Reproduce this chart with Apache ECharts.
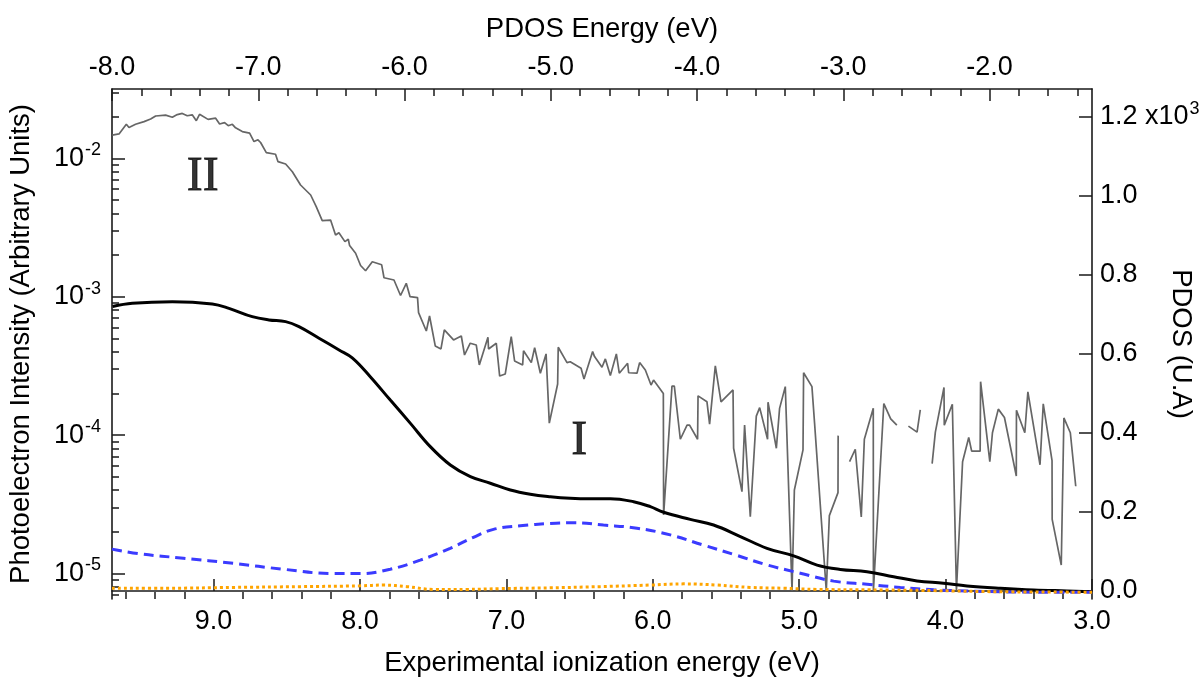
<!DOCTYPE html>
<html>
<head>
<meta charset="utf-8">
<script src="https://cdn.jsdelivr.net/npm/echarts@6/dist/echarts.min.js"></script>
<style>
html,body{margin:0;padding:0;background:#fff;}
#chart{width:1200px;height:678px;}
</style>
</head>
<body>
<div id="chart"></div>
<script>
// ---------- data ----------
// Spectrum II (grey, experimental ionization energy vs intensity, log axis)
const greyE = [
  9.692,9.646,9.596,9.578,9.533,9.475,9.430,9.396,9.328,9.282,
  9.248,9.214,9.180,9.146,9.118,9.096,9.038,8.986,8.959,8.925,
  8.900,8.872,8.850,8.804,8.754,8.724,8.697,8.679,8.640,8.577,
  8.560,8.508,8.462,8.406,8.337,8.299,8.258,8.201,8.167,8.144,
  8.103,8.080,8.071,8.030,7.996,7.962,7.916,7.852,7.836,7.768,
  7.723,7.684,7.658,7.607,7.600,7.547,7.525,7.486,7.447,7.424,
  7.361,7.308,7.286,7.247,7.206,7.185,7.126,7.122,7.069,7.046,
  7.008,6.967,6.944,6.889,6.883,6.830,6.807,6.768,6.729,6.707,
  6.650,6.646,6.586,6.564,6.490,6.470,6.411,6.398,6.347,6.324,
  6.290,6.249,6.229,6.172,6.165,6.108,6.090,6.051,6.012,5.995,
  5.928,5.926,5.869,5.853,5.812,5.766,5.749,5.694,5.691,5.630,
  5.612,5.573,5.534,5.452,5.448,5.391,5.373,5.334,5.293,5.270,
  5.216,5.213,5.156,5.134,5.095,5.049,5.033,4.974,4.970,4.913,
  4.895,4.815,4.794,4.735,4.734,4.700,
  4.656,4.617,4.576,4.555,4.494,4.493,4.422,4.375,4.333,4.300,
  4.254,4.195,4.173,4.130,
  4.092,4.070,4.011,4.009,3.954,3.926,3.884,3.842,3.822,3.764,
  3.761,3.698,3.680,3.640,3.598,3.517,3.516,3.459,3.438,3.355,
  3.333,3.273,3.272,3.210,3.192,3.148,3.111
];
const greyI = [
  0.0147,0.0150,0.0176,0.0167,0.0176,0.0184,0.0192,0.0202,0.0205,0.0198,
  0.0207,0.0211,0.0203,0.0206,0.0187,0.0208,0.0191,0.0195,0.0177,0.0181,
  0.0172,0.0176,0.0166,0.0156,0.0152,0.0132,0.0136,0.0130,0.0110,0.0107,
  0.00945,0.0091,0.0080,0.00641,0.00543,0.00447,0.00354,0.00358,0.00279,0.00290,
  0.00250,0.00260,0.00234,0.00206,0.00168,0.00154,0.00179,0.00170,0.00137,0.00132,
  0.00102,0.00125,0.00100,0.000984,0.000766,0.000565,0.000725,0.000441,0.000419,0.000575,
  0.000487,0.000520,0.000379,0.000461,0.000448,0.000321,0.000509,0.000419,0.000461,0.000267,
  0.000276,0.000514,0.000343,0.000321,0.000407,0.000334,0.000428,0.000280,0.000386,0.000122,
  0.000234,0.000431,0.000334,0.000339,0.000304,0.000254,0.000401,0.000369,0.000309,0.000355,
  0.000269,0.000386,0.000280,0.000330,0.000282,0.000280,0.000334,0.000295,0.000230,0.000250,
  0.000200,0.0000265,0.000226,0.000226,0.0000933,0.000118,0.000118,0.0000933,0.000192,0.000174,
  0.000120,0.000316,0.000174,0.000212,0.0000803,0.0000390,0.000118,0.0000257,0.000137,0.000158,
  0.0000933,0.000173,0.0000803,0.000156,0.000224,0.0000075,0.0000401,0.0000781,0.000282,0.000224,
  0.000122,0.0000075,0.0000262,0.0000384,0.0000991,null,
  0.0000643,0.0000790,0.0000256,0.0000933,0.000156,0.0000075,0.000169,0.000131,0.000118,null,
  0.000116,0.000105,0.000152,null,
  0.0000622,0.000105,0.000221,0.000118,0.000167,0.0000075,0.0000642,0.0000960,0.0000765,0.0000765,
  0.000243,0.0000642,0.000104,0.000154,0.000134,0.0000506,0.000151,0.000104,0.000205,0.0000610,
  0.000168,0.0000653,0.0000246,0.0000115,0.000133,0.000104,0.0000427
];
// Spectrum I (black)
const blackE = [9.69,9.555,9.282,9.009,8.895,8.736,8.622,8.508,8.417,8.280,
  8.143,8.053,7.930,7.793,7.657,7.520,7.383,7.246,7.110,6.973,
  6.837,6.700,6.564,6.427,6.290,6.131,6.017,5.926,5.744,5.585,
  5.402,5.220,5.038,4.878,4.719,4.537,4.355,4.195,4.014,3.854,
  3.626,3.399,3.171,3.0];
const blackI = [0.000850,0.000897,0.000920,0.000886,0.000824,0.000717,0.000679,0.000660,0.000607,0.000501,
  0.000412,0.000361,0.000264,0.000179,0.000122,0.0000825,0.0000608,0.0000501,0.0000449,0.0000401,
  0.0000374,0.0000359,0.0000350,0.0000347,0.0000347,0.0000330,0.0000304,0.0000277,0.0000246,0.0000224,
  0.0000185,0.0000152,0.0000134,0.0000115,0.0000107,0.0000103,0.00000948,0.00000883,0.00000850,0.00000813,
  0.00000782,0.00000760,0.00000748,0.00000739];
// PDOS (blue dashed) vs PDOS energy
const blueP = [-8.0,-7.808,-7.512,-7.170,-6.828,-6.486,-6.304,-6.098,-5.893,-5.688,
  -5.529,-5.392,-5.209,-5.004,-4.845,-4.640,-4.411,-4.183,-3.956,-3.727,
  -3.522,-3.294,-3.066,-2.838,-2.610,-2.382,-2.154,-1.926,-1.698,-1.30];
const blueV = [106,94,83,70,55,44,44,55,78,108,
  136,156,165,171,173,167,159,142,116,90,
  66,45,25,17,9,3,0,-2,-3,-3];
// PDOS (orange dotted)
const orangeP = [-8.0,-7.624,-7.170,-6.714,-6.304,-6.144,-5.984,-5.802,-5.574,-5.346,
  -5.004,-4.662,-4.320,-4.092,-3.864,-3.636,-3.408,-3.180,-2.838,-2.382,-1.926,-1.30];
const orangeV = [7,7,9,11,13,15,11,4,4,6,8,11,15,18,15,9,7,4,3,1,-2,-3];

// annotations
const noteText = ['II', 'I'];
const noteE = [9.074, 6.502];
const noteI = [0.00726, 0.0000906];

// tick values
const bottomMajor = [3,4,5,6,7,8,9];
const bottomMinor = [3.2,3.4,3.6,3.8,4.2,4.4,4.6,4.8,5.2,5.4,5.6,5.8,6.2,6.4,6.6,6.8,7.2,7.4,7.6,7.8,8.2,8.4,8.6,8.8,9.2,9.4,9.6];
const topMajor = [-8,-7,-6,-5,-4,-3,-2];
const topMinor = [-7.8,-7.6,-7.4,-7.2,-6.8,-6.6,-6.4,-6.2,-5.8,-5.6,-5.4,-5.2,-4.8,-4.6,-4.4,-4.2,-3.8,-3.6,-3.4,-3.2,-2.8,-2.6,-2.4,-2.2,-1.8,-1.6,-1.4];
const leftMajor = [1e-5,1e-4,1e-3,1e-2];
const leftMinor = [7e-6,8e-6,9e-6,
  2e-5,3e-5,4e-5,5e-5,6e-5,7e-5,8e-5,9e-5,
  2e-4,3e-4,4e-4,5e-4,6e-4,7e-4,8e-4,9e-4,
  2e-3,3e-3,4e-3,5e-3,6e-3,7e-3,8e-3,9e-3,
  2e-2,3e-2];
const rightMajor = [0,200,400,600,800,1000,1200];

// ---------- chart ----------
const FONT = "'Liberation Sans', Arial, sans-serif";
const AX = '#1a1a1a';
const chart = echarts.init(document.getElementById('chart'), null, {renderer:'canvas'});

const zip = (a,b) => a.map((x,i) => [x, b[i] === null ? '-' : b[i]]);

const lineStyleAxis = {show:true, lineStyle:{color:AX, width:1.6}};
const tickTxt = {color:'#000', fontFamily:FONT, fontSize:27};
const nameTxt = {color:'#000', fontFamily:FONT, fontSize:27.5};
const supRich = {
  b:{fontSize:27, fontFamily:FONT, color:'#000'},
  s:{fontSize:18, fontFamily:FONT, color:'#000', padding:[0,0,16,1]}
};

const option = {
  animation:false,
  backgroundColor:'#fff',
  grid:{left:112, right:108, top:89, bottom:79, outerBoundsMode:'none', containLabel:false},
  xAxis:[
    { type:'value', position:'bottom', inverse:true, min:3.0, max:9.694,
      axisLine:lineStyleAxis,
      axisTick:{show:true, inside:true, length:12, customValues:bottomMajor, lineStyle:{color:AX, width:1.5}},
      axisLabel:{show:true, customValues:bottomMajor, formatter:v=>v.toFixed(1), margin:9, ...tickTxt},
      splitLine:{show:false},
      name:'Experimental ionization energy (eV)', nameLocation:'middle', nameGap:50, nameMoveOverlap:false,
      nameTextStyle:{...nameTxt}
    },
    { type:'value', position:'bottom', inverse:true, min:3.0, max:9.694,
      axisLine:{show:false},
      axisTick:{show:true, inside:true, length:7, customValues:bottomMinor, lineStyle:{color:AX, width:1.5}},
      axisLabel:{show:false}, splitLine:{show:false}
    },
    { type:'value', position:'top', min:-8.0, max:-1.30,
      axisLine:lineStyleAxis,
      axisTick:{show:true, inside:true, length:12, customValues:topMajor, lineStyle:{color:AX, width:1.5}},
      axisLabel:{show:true, customValues:topMajor, formatter:v=>v.toFixed(1), margin:8, ...tickTxt},
      splitLine:{show:false},
      name:'PDOS Energy (eV)', nameLocation:'middle', nameGap:46, nameMoveOverlap:false,
      nameTextStyle:{...nameTxt}
    },
    { type:'value', position:'top', min:-8.0, max:-1.30,
      axisLine:{show:false},
      axisTick:{show:true, inside:true, length:7, customValues:topMinor, lineStyle:{color:AX, width:1.5}},
      axisLabel:{show:false}, splitLine:{show:false}
    }
  ],
  yAxis:[
    { type:'log', logBase:10, position:'left', min:6.54e-6, max:0.03167,
      axisLine:lineStyleAxis,
      axisTick:{show:true, inside:true, length:13, customValues:leftMajor, lineStyle:{color:AX, width:1.5}},
      axisLabel:{show:true, customValues:leftMajor, margin:11,
        formatter:v=>'{b|10}{s|' + Math.round(Math.log10(v)) + '}',
        rich:supRich },
      splitLine:{show:false},
      name:'Photoelectron Intensity (Arbitrary Units)', nameLocation:'middle', nameGap:77, nameMoveOverlap:false,
      nameTextStyle:{...nameTxt}
    },
    { type:'log', logBase:10, position:'left', min:6.54e-6, max:0.03167,
      axisLine:{show:false},
      axisTick:{show:true, inside:true, length:7, customValues:leftMinor, lineStyle:{color:AX, width:1.5}},
      axisLabel:{show:false}, splitLine:{show:false}
    },
    { type:'value', position:'right', min:-20.3, max:1271,
      axisLine:lineStyleAxis,
      axisTick:{show:true, inside:true, length:13, customValues:rightMajor, lineStyle:{color:AX, width:1.5}},
      axisLabel:{show:true, customValues:rightMajor, margin:8,
        formatter:v=> v===1200 ? '{b|1.2 x10}{s|3}' : '{b|' + (v/1000).toFixed(1) + '}',
        rich:supRich },
      splitLine:{show:false},
      name:'PDOS (U.A)', nameLocation:'middle', nameGap:75, nameRotate:-90, nameMoveOverlap:false,
      nameTextStyle:{...nameTxt}
    }
  ],
  series:[
    { type:'line', name:'II', xAxisIndex:0, yAxisIndex:0, data:zip(greyE, greyI),
      showSymbol:false, symbol:'none', connectNulls:false,
      lineStyle:{color:'#666666', width:1.7}, z:2 },
    { type:'line', name:'I', xAxisIndex:0, yAxisIndex:0, data:zip(blackE, blackI),
      showSymbol:false, symbol:'none', smooth:0.4,
      lineStyle:{color:'#000', width:3}, z:3 },
    { type:'line', name:'PDOS blue', xAxisIndex:2, yAxisIndex:2, data:zip(blueP, blueV),
      showSymbol:false, symbol:'none', smooth:0.4,
      lineStyle:{color:'#3b3bff', width:3, type:[10,6]}, z:4 },
    { type:'line', name:'PDOS orange', xAxisIndex:2, yAxisIndex:2, data:zip(orangeP, orangeV),
      showSymbol:false, symbol:'none', smooth:0.4,
      lineStyle:{color:'#ffa500', width:3, type:[3,3]}, z:5 },
    { type:'scatter', xAxisIndex:0, yAxisIndex:0, symbolSize:0,
      data:noteText.map((t,i)=>({value:[noteE[i], noteI[i]], name:t})),
      label:{show:true, position:'inside', formatter:p=>p.name,
        fontFamily:"'Liberation Serif', 'Times New Roman', serif", fontSize:48, color:'#000',
        textBorderColor:'#000', textBorderWidth:0.8},
      silent:true, z:6 }
  ]
};
chart.setOption(option);
</script>
</body>
</html>
